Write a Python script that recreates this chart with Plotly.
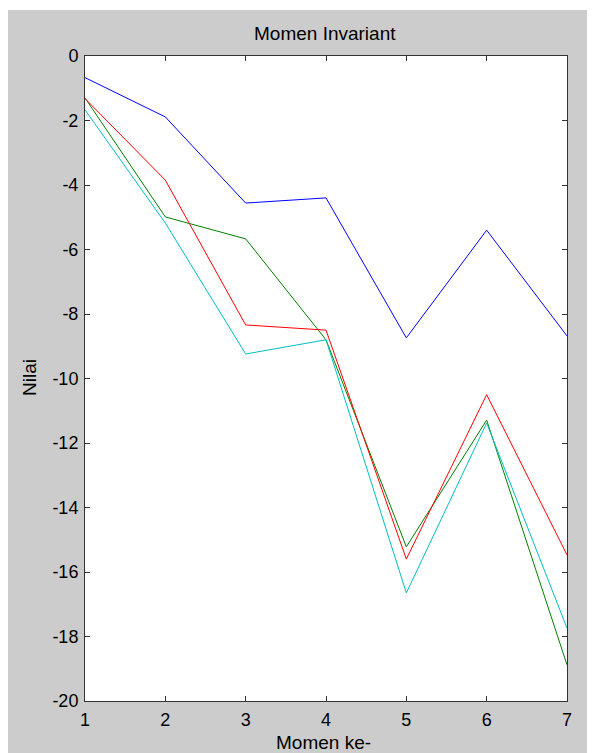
import plotly.graph_objects as go

momen = [1, 2, 3, 4, 5, 6, 7]
seri_biru = [-0.67, -1.89, -4.56, -4.40, -8.74, -5.40, -8.68]
seri_hijau = [-1.30, -4.99, -5.67, -8.80, -15.22, -11.29, -18.88]
seri_merah = [-1.32, -3.85, -8.34, -8.50, -15.60, -10.50, -15.47]
seri_cyan = [-1.67, -5.18, -9.24, -8.80, -16.65, -11.38, -17.74]

x_ticks = [1, 2, 3, 4, 5, 6, 7]
y_ticks = [0, -2, -4, -6, -8, -10, -12, -14, -16, -18, -20]

OFF = 8  # default body margin of the page
W, H = 595 - OFF, 753 - OFF
L, R, T, B = 85 - OFF, 28, 56 - OFF, 52
pw, ph = W - L - R, H - T - B

fig = go.Figure()
for vals, col in [(seri_biru, "#0000ff"), (seri_hijau, "#008000"),
                  (seri_merah, "#ff0000"), (seri_cyan, "#00bfbf")]:
    fig.add_trace(go.Scatter(x=momen, y=vals, mode="lines",
                             line=dict(color=col, width=1), showlegend=False))

fam = "Liberation Sans, Arial, sans-serif"

def px_x(p):  # page pixel -> paper x
    return (p - OFF - L) / pw

def px_y(p):  # page pixel -> paper y
    return (H - B - (p - OFF)) / ph

shapes = [
    dict(type="rect", xref="paper", yref="paper", x0=px_x(0), x1=px_x(W + 20),
         y0=px_y(10), y1=px_y(0), fillcolor="white", line=dict(width=0), layer="below"),
]

annotations = [
    dict(text="Momen Invariant", xref="paper", yref="paper", x=px_x(325), y=px_y(33),
         xanchor="center", yanchor="middle", showarrow=False,
         font=dict(family=fam, size=19, color="black")),
    dict(text="Momen ke-", xref="paper", yref="paper", x=px_x(323), y=px_y(742),
         xanchor="center", yanchor="middle", showarrow=False,
         font=dict(family=fam, size=19, color="black")),
    dict(text="Nilai", xref="paper", yref="paper", x=px_x(29), y=px_y(378),
         xanchor="center", yanchor="middle", showarrow=False, textangle=-90,
         font=dict(family=fam, size=19, color="black")),
]

fig.update_layout(
    width=W, height=H,
    margin=dict(l=L, r=R, t=T, b=B),
    paper_bgcolor="#cccccc",
    plot_bgcolor="#ffffff",
    font=dict(family=fam, size=18, color="#000000"),
    shapes=shapes,
    annotations=annotations,
    xaxis=dict(range=[1, 7], tickvals=x_ticks, ticktext=[str(v) for v in x_ticks],
               ticks="inside", ticklen=5, tickwidth=1, tickcolor="#333333",
               showline=True, linecolor="#333333", linewidth=1, mirror="ticks",
               showgrid=False, zeroline=False, ticklabelstandoff=2),
    yaxis=dict(range=[-20, 0], tickvals=y_ticks, ticktext=[str(v) for v in y_ticks],
               ticks="inside", ticklen=5, tickwidth=1, tickcolor="#333333",
               showline=True, linecolor="#333333", linewidth=1, mirror="ticks",
               showgrid=False, zeroline=False, ticklabelstandoff=2),
)

fig.write_html("out.html")
